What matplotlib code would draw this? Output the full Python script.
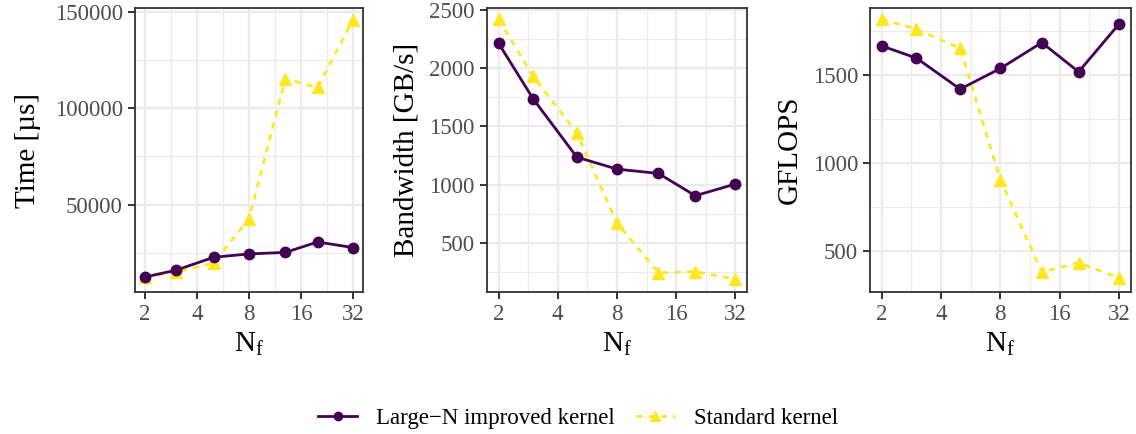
#!/usr/bin/env python3
"""
Large-N improved kernel vs standard kernel: time, bandwidth and GFLOPS against N_f.
"""

import matplotlib
matplotlib.use("Agg")
import matplotlib.pyplot as plt
from matplotlib.lines import Line2D
from matplotlib.ticker import FixedLocator, NullFormatter

# Data
nf = [2, 3, 5, 8, 13, 20, 32]

time_large_n = [12600, 16000, 22800, 24500, 25300, 30700, 27800]
time_standard = [12400, 15000, 19800, 42800, 115200, 110700, 145700]

bw_large_n = [2214, 1737, 1237, 1134, 1097, 906, 1006]
bw_standard = [2420, 1930, 1445, 670, 245, 255, 190]

gflops_large_n = [1664, 1595, 1419, 1536, 1683, 1517, 1787]
gflops_standard = [1816, 1759, 1651, 905, 380, 433, 347]

x_ticks = [2, 4, 8, 16, 32]
x_minor = [2 ** 1.5, 2 ** 2.5, 2 ** 3.5, 2 ** 4.5]

PURPLE = "#440154"
YELLOW = "#FDE725"

plt.rcParams["font.family"] = ["Liberation Serif", "DejaVu Serif"]
plt.rcParams["mathtext.fontset"] = "custom"
plt.rcParams["mathtext.rm"] = "Liberation Serif"
plt.rcParams["mathtext.it"] = "Liberation Serif:italic"


def style_axis(ax, ylabel, y_major, y_minor, ylim, ylabelpad=7):
    ax.set_xscale("log", base=2)
    ax.set_xlim(2 ** 0.8, 2 ** 5.2)
    ax.xaxis.set_major_locator(FixedLocator(x_ticks))
    ax.xaxis.set_minor_locator(FixedLocator(x_minor))
    ax.xaxis.set_minor_formatter(NullFormatter())
    ax.set_xticklabels([str(t) for t in x_ticks])

    ax.set_ylim(*ylim)
    ax.yaxis.set_major_locator(FixedLocator(y_major))
    ax.yaxis.set_minor_locator(FixedLocator(y_minor))
    ax.set_yticklabels([str(t) for t in y_major])

    ax.grid(True, which="major", color="#EBEBEB", linewidth=1.6)
    ax.grid(True, which="minor", color="#EBEBEB", linewidth=0.9)
    ax.set_axisbelow(True)

    for sp in ax.spines.values():
        sp.set_color("#333333")
        sp.set_linewidth(1.3)

    ax.tick_params(which="major", length=5, width=1.4, color="#333333",
                   labelsize=16.5, labelcolor="#4D4D4D")
    ax.tick_params(axis="x", which="major", pad=4)
    ax.tick_params(axis="y", which="major", pad=3.5)
    ax.tick_params(which="minor", length=0)

    ax.set_xlabel("N$_{\\mathrm{f}}$", fontsize=21, labelpad=4)
    ax.set_ylabel(ylabel, fontsize=21, labelpad=ylabelpad)


def draw(ax, large, standard):
    ax.plot(nf, standard, color=YELLOW, linestyle=(0, (2.2, 2.2)), linewidth=2,
            marker="^", markersize=9, zorder=3)
    ax.plot(nf, large, color=PURPLE, linestyle="-", linewidth=2,
            marker="o", markersize=7.5, zorder=4)


def main():
    fig = plt.figure(figsize=(11.36, 4.34), dpi=100)

    bottom, height = 0.3272, 0.6538
    ax1 = fig.add_axes([0.1186, bottom, 0.2012, height])
    ax2 = fig.add_axes([0.4284, bottom, 0.2294, height])
    ax3 = fig.add_axes([0.7658, bottom, 0.2295, height])

    draw(ax1, time_large_n, time_standard)
    style_axis(ax1, "Time [µs]", [50000, 100000, 150000],
               [25000, 75000, 125000], (4800, 151700), ylabelpad=10)

    draw(ax2, bw_large_n, bw_standard)
    style_axis(ax2, "Bandwidth [GB/s]", [500, 1000, 1500, 2000, 2500],
               [250, 750, 1250, 1750, 2250], (80, 2514))

    draw(ax3, gflops_large_n, gflops_standard)
    style_axis(ax3, "GFLOPS", [500, 1000, 1500],
               [750, 1250, 1750], (267, 1878))

    handles = [
        Line2D([], [], color=PURPLE, linewidth=2, marker="o", markersize=6),
        Line2D([], [], color=YELLOW, linewidth=2, linestyle=(0, (2.2, 2.2)),
               marker="^", markersize=7.5),
    ]
    fig.legend(handles, ["Large\u2212N improved kernel", "Standard kernel"],
               loc="center", bbox_to_anchor=(0.509, 0.036), ncol=2,
               frameon=False, fontsize=16.5, handlelength=1.7,
               handletextpad=0.85, columnspacing=0.9, numpoints=1)

    fig.savefig("out.png", dpi=100)


if __name__ == "__main__":
    main()
